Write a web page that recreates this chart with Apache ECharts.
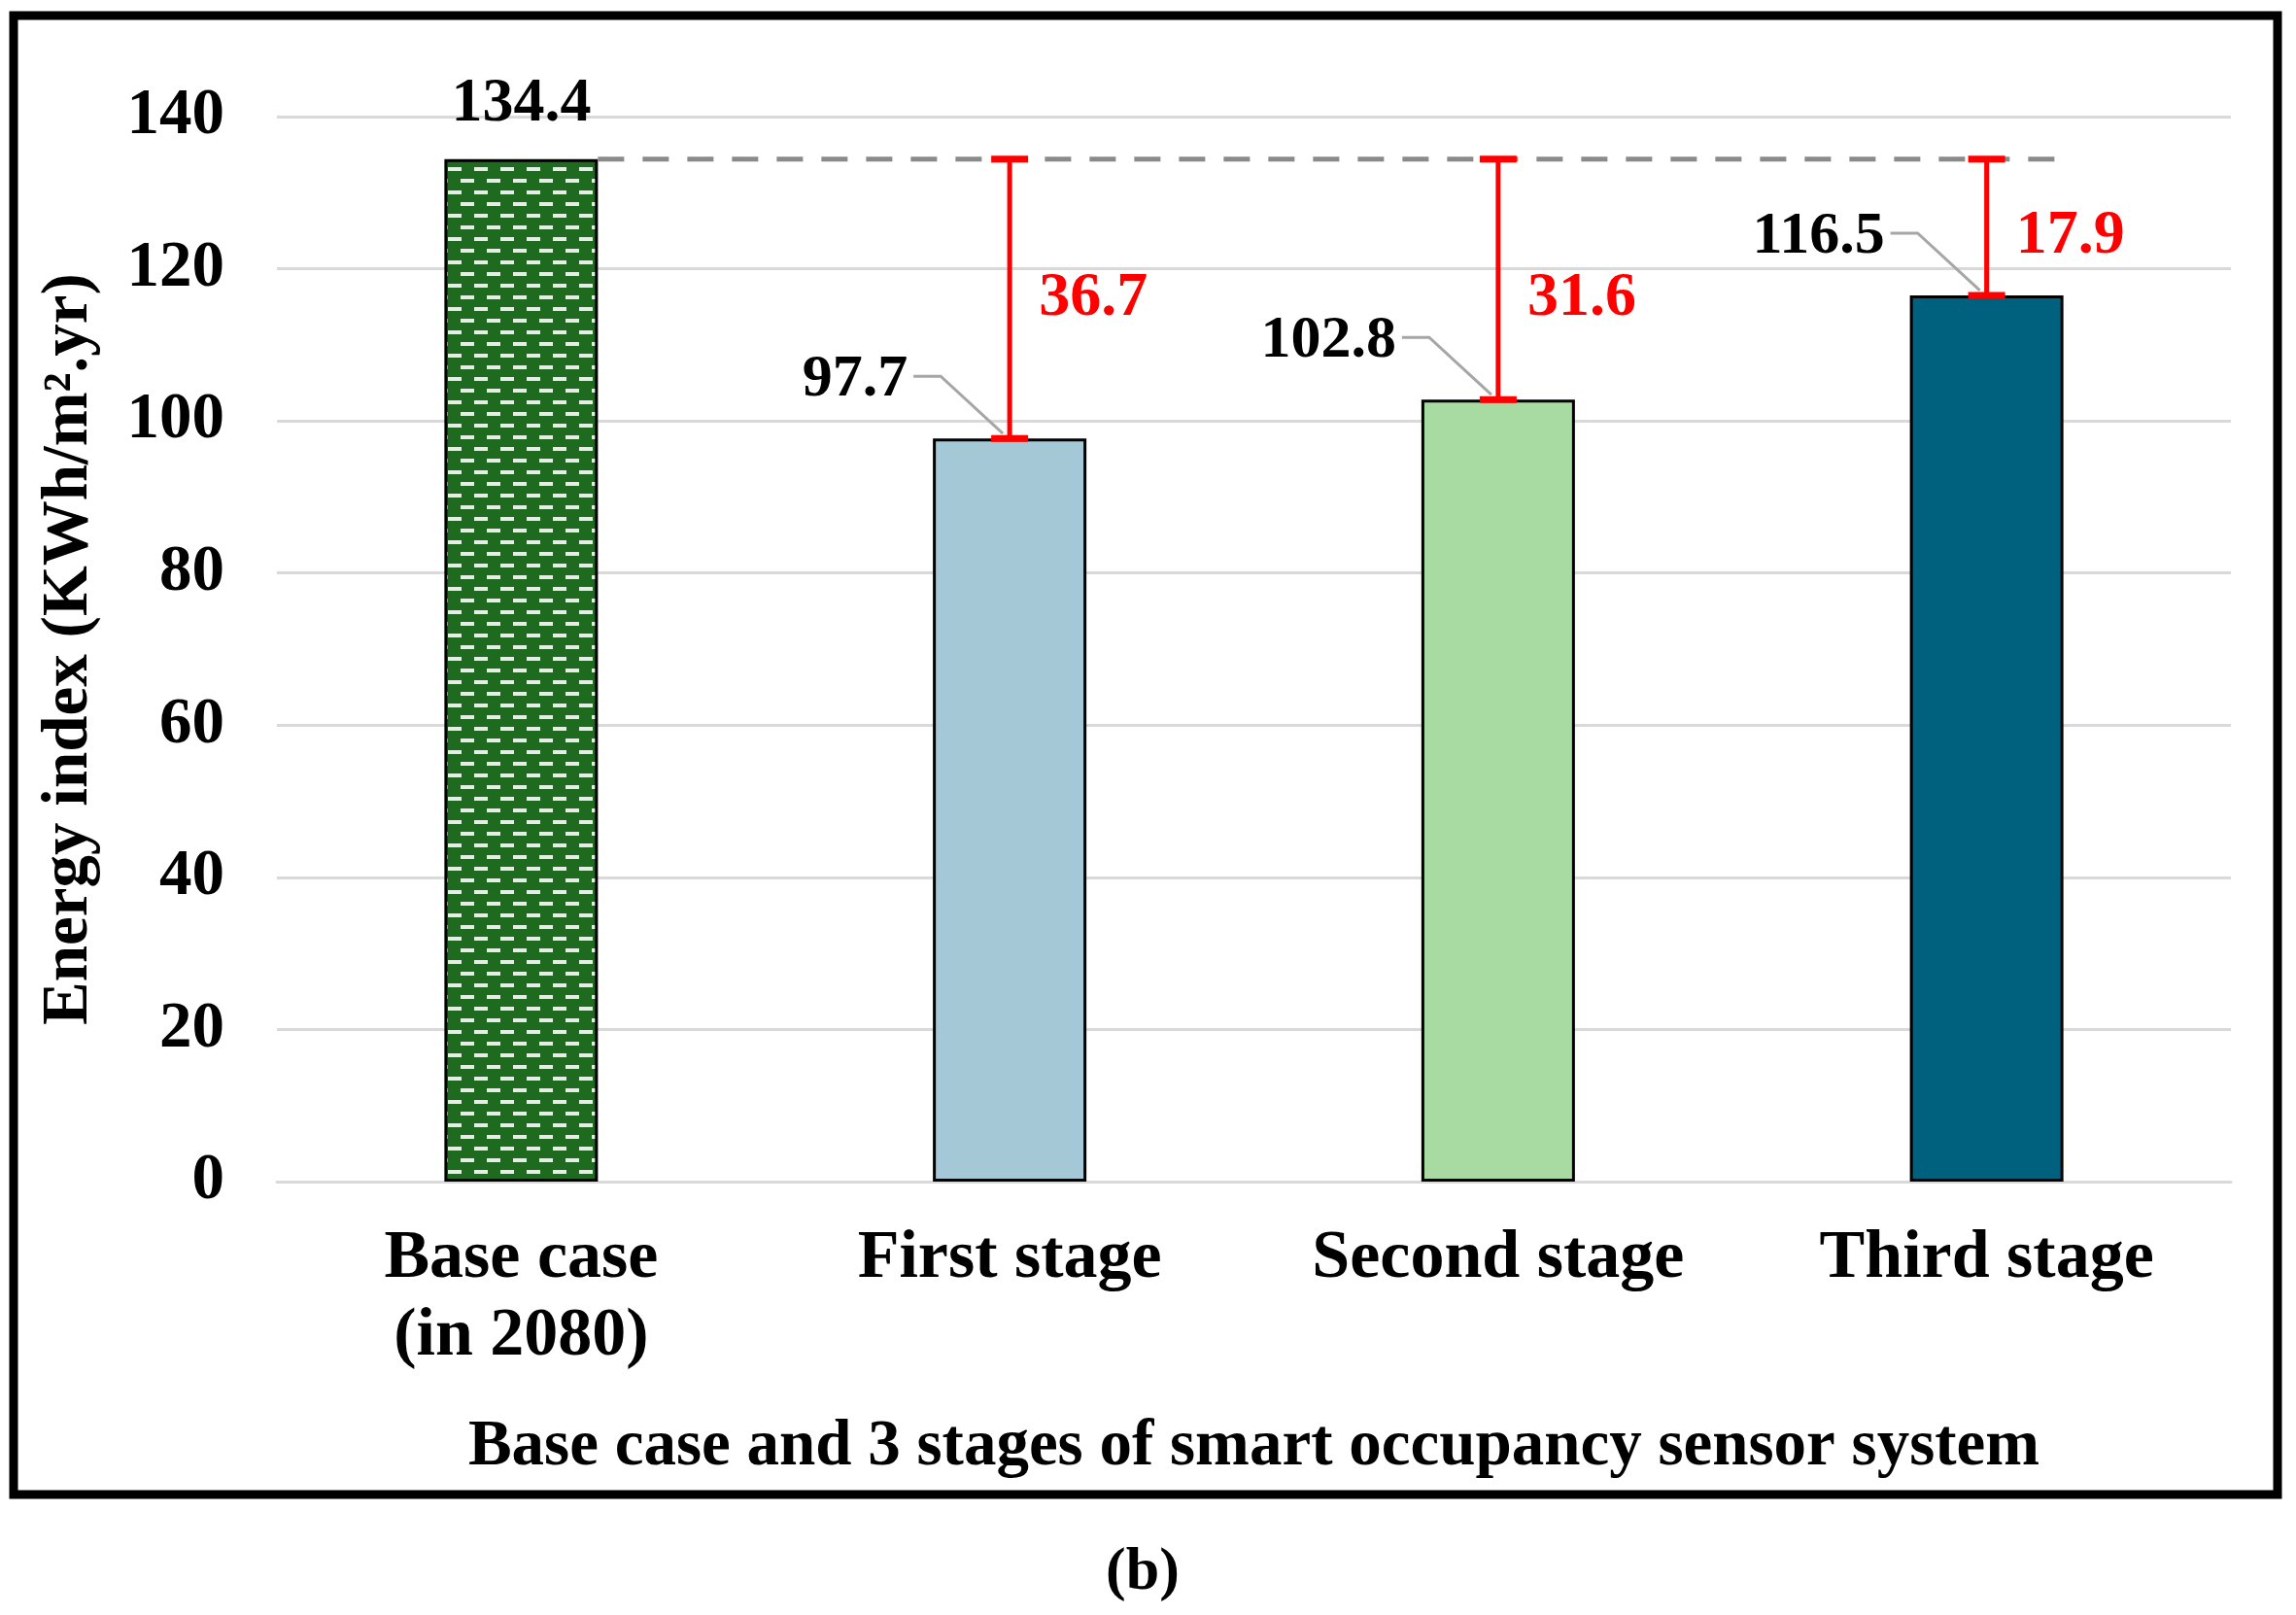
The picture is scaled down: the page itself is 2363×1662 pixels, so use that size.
<!DOCTYPE html>
<html>
<head>
<meta charset="utf-8">
<script src="https://cdn.jsdelivr.net/npm/echarts@6/dist/echarts.min.js"></script>
<style>
  html, body { margin: 0; padding: 0; background: #ffffff; }
  #chart { width: 2363px; height: 1662px; }
</style>
</head>
<body>
<div id="chart"></div>
<script>
// ---------- data ----------
const categories = ['Base case\n(in 2080)', 'First stage', 'Second stage', 'Third stage'];
const energyValues = [134.4, 97.7, 102.8, 116.5];
const reductionValues = [null, 36.7, 31.6, 17.9];
const yMin = 0;
const yMax = 140;
const yInterval = 20;
const xAxisTitle = 'Base case and 3 stages of smart occupancy sensor system';
const yAxisTitle = 'Energy index (KWh/m\u00B2.yr)';
const panelLabel = '(b)';

// ---------- style ----------
const FONT = '"Liberation Serif", "Times New Roman", serif';
const barFill = ['pattern', '#A5C8D7', '#A8DBA1', '#00617F'];
const BAR_W = 158;
const redLabelDy = [0, 0, 20, 10];

function makePattern() {
  const c = document.createElement('canvas');
  c.width = 27; c.height = 24;
  const g = c.getContext('2d');
  g.fillStyle = '#1E6A1E';
  g.fillRect(0, 0, 27, 24);
  g.fillStyle = '#E6ECE6';
  g.fillRect(2, 4, 14, 4);
  g.fillRect(15, 16, 12, 4);
  g.fillRect(0, 16, 2, 4);
  return c;
}
const patternCanvas = makePattern();

const chart = echarts.init(document.getElementById('chart'), null, { renderer: 'canvas' });

const barData = energyValues.map((v, i) => ({
  value: v,
  itemStyle: {
    color: barFill[i] === 'pattern' ? { image: patternCanvas, repeat: 'repeat' } : barFill[i]
  },
  label: { show: i === 0 }
}));

const annotData = [];
energyValues.forEach((v, i) => {
  if (reductionValues[i] != null) annotData.push([i, v, reductionValues[i]]);
});

const refLineData = [[0, energyValues.length - 1, energyValues[0]]];

chart.setOption({
  backgroundColor: '#ffffff',
  animation: false,
  grid: { left: 285, right: 67, top: 120, bottom: 446, containLabel: false, outerBoundsMode: 'none' },
  xAxis: {
    type: 'category',
    data: categories,
    axisLine: { show: true, lineStyle: { color: '#D9D9D9', width: 3 } },
    axisTick: { show: false },
    axisLabel: {
      interval: 0,
      margin: 40,
      color: '#000',
      fontFamily: FONT,
      fontWeight: 'bold',
      fontSize: 70,
      lineHeight: 80
    },
    name: xAxisTitle,
    nameLocation: 'middle',
    nameGap: 240,
    nameTextStyle: { color: '#000', fontFamily: FONT, fontWeight: 'bold', fontSize: 67 }
  },
  yAxis: {
    type: 'value',
    min: yMin,
    max: yMax,
    interval: yInterval,
    axisLine: { show: false },
    axisTick: { show: false },
    splitLine: { show: true, lineStyle: { color: '#D9D9D9', width: 3 } },
    axisLabel: {
      margin: 54,
      color: '#000',
      fontFamily: FONT,
      fontWeight: 'bold',
      fontSize: 67
    },
    name: yAxisTitle,
    nameLocation: 'middle',
    nameGap: 180,
    nameTextStyle: { color: '#000', fontFamily: FONT, fontWeight: 'bold', fontSize: 67 }
  },
  series: [
    {
      type: 'bar',
      data: barData,
      barWidth: BAR_W,
      itemStyle: { borderColor: '#000', borderWidth: 3 },
      label: {
        position: 'top',
        distance: 24,
        color: '#000',
        fontFamily: FONT,
        fontWeight: 'bold',
        fontSize: 64
      },
      z: 2
    },
    {
      type: 'custom',
      data: refLineData,
      encode: { x: [0, 1], y: 2 },
      z: 3,
      silent: true,
      renderItem: function (params, api) {
        const a = api.coord([api.value(0), api.value(2)]);
        const b = api.coord([api.value(1), api.value(2)]);
        const half = BAR_W / 2;
        return {
          type: 'line',
          shape: { x1: a[0] + half, y1: a[1], x2: b[0] + half - 5, y2: b[1] },
          style: { stroke: '#8A8A8A', lineWidth: 5, lineDash: [27, 19] }
        };
      }
    },
    {
      type: 'custom',
      data: annotData,
      encode: { x: 0, y: 1 },
      z: 5,
      silent: true,
      renderItem: function (params, api) {
        const i = api.value(0);
        const v = api.value(1);
        const d = api.value(2);
        const top = api.coord([i, v]);
        const ref = api.coord([i, v + d]);
        const x = top[0];
        const cap = 19;
        const red = '#FF0000';
        const ty = top[1];
        return {
          type: 'group',
          children: [
            {
              type: 'polyline',
              shape: { points: [[x - 99, ty - 64], [x - 71, ty - 64], [x - 7, ty - 5]] },
              style: { stroke: '#A6A6A6', lineWidth: 3, fill: null }
            },
            {
              type: 'line',
              shape: { x1: x, y1: ty, x2: x, y2: ref[1] },
              style: { stroke: red, lineWidth: 5 }
            },
            {
              type: 'line',
              shape: { x1: x - cap, y1: ref[1], x2: x + cap, y2: ref[1] },
              style: { stroke: red, lineWidth: 7 }
            },
            {
              type: 'line',
              shape: { x1: x - cap, y1: ty, x2: x + cap, y2: ty },
              style: { stroke: red, lineWidth: 7 }
            },
            {
              type: 'text',
              style: {
                x: x + 30,
                y: (ty + ref[1]) / 2 + redLabelDy[i],
                text: d.toFixed(1),
                fill: red,
                font: 'bold 64px ' + FONT,
                align: 'left',
                verticalAlign: 'middle'
              }
            },
            {
              type: 'text',
              style: {
                x: x - 105,
                y: ty - 60,
                text: v.toFixed(1),
                fill: '#000',
                font: 'bold 62px ' + FONT,
                align: 'right',
                verticalAlign: 'middle'
              }
            }
          ]
        };
      }
    }
  ],
  graphic: [
    {
      type: 'rect',
      shape: { x: 14, y: 16, width: 2330, height: 1522 },
      style: { fill: null, stroke: '#000', lineWidth: 9 },
      silent: true,
      z: 10
    },
    {
      type: 'text',
      x: 1176,
      y: 1619,
      style: {
        text: panelLabel,
        fill: '#000',
        font: 'bold 62px ' + FONT,
        align: 'center',
        verticalAlign: 'middle'
      },
      silent: true
    }
  ]
});
</script>
</body>
</html>
